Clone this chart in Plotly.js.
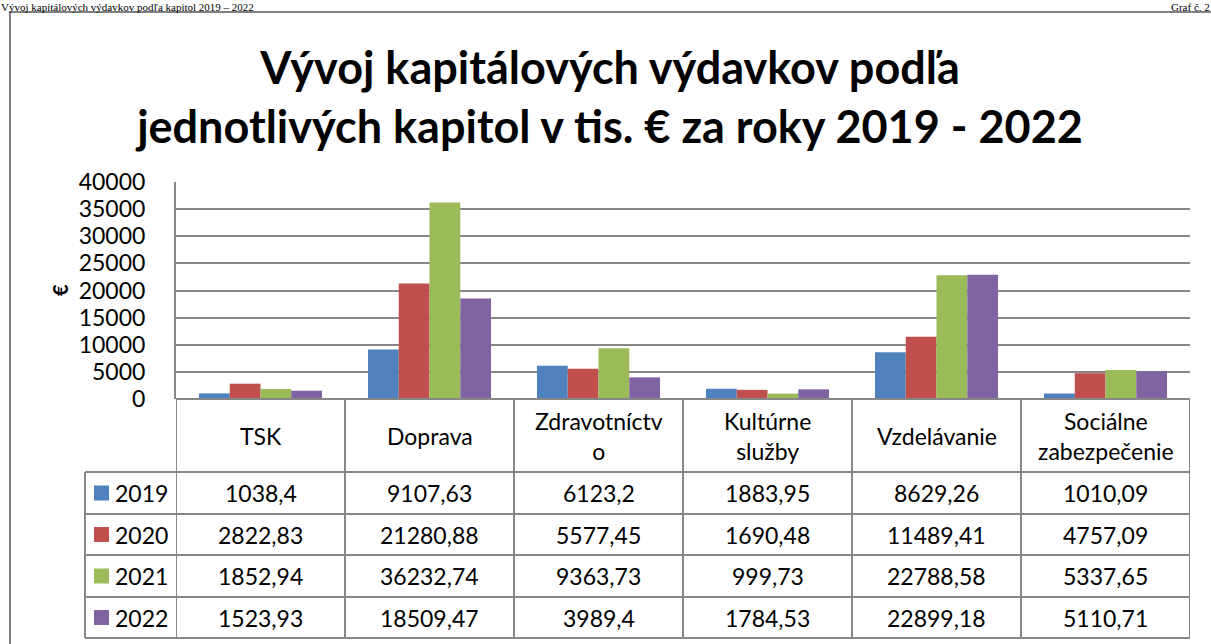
<!DOCTYPE html>
<html>
<head>
<meta charset="utf-8">
<script src="https://cdn.plot.ly/plotly-3.0.1.min.js"></script>
<style>html,body{margin:0;padding:0;background:#fff;}#chart{width:1211px;height:644px;}</style>
</head>
<body>
<div id="chart"></div>
<script>
// ---- data ----
var categories = ['TSK', 'Doprava', 'Zdravotníctvo', 'Kultúrne služby', 'Vzdelávanie', 'Sociálne zabezpečenie'];
var headerLabels = ['TSK', 'Doprava', 'Zdravotníctv<br>o', 'Kultúrne<br>služby', 'Vzdelávanie', 'Sociálne<br>zabezpečenie'];
var years = ['2019', '2020', '2021', '2022'];
var v2019 = [1038.4, 9107.63, 6123.2, 1883.95, 8629.26, 1010.09];
var v2020 = [2822.83, 21280.88, 5577.45, 1690.48, 11489.41, 4757.09];
var v2021 = [1852.94, 36232.74, 9363.73, 999.73, 22788.58, 5337.65];
var v2022 = [1523.93, 18509.47, 3989.4, 1784.53, 22899.18, 5110.71];
var yTickVals = [0, 5000, 10000, 15000, 20000, 25000, 30000, 35000, 40000];
var titleText = 'Vývoj kapitálových výdavkov podľa<br>jednotlivých kapitol v tis. € za roky 2019 - 2022';
var yTitle = '€';
var pageHeaderLeft = 'Vývoj kapitálových výdavkov podľa kapitol 2019 – 2022';
var pageHeaderRight = 'Graf č. 2';

var series = [v2019, v2020, v2021, v2022];
var colors = ['#4F81BD', '#C0504D', '#9BBB59', '#8064A2'];

// ---- geometry helpers (pixel -> paper) ----
var W = 1211, H = 644;
function px(p) { return p / W; }
function py(p) { return 1 - p / H; }
var plotL = 176, plotR = 1190, plotT = 182, plotB = 399;
var legL = 85;
var rowLines = [472, 514, 555, 597, 638];
var headerMid = 436;
var gridCol = '#878787';
var fontFam = 'Lato, "Open Sans", sans-serif';

function fmt(v) { return String(v).replace('.', ','); }

var traces = series.map(function (vals, i) {
  return {
    type: 'bar',
    name: years[i],
    x: categories,
    y: vals,
    marker: { color: colors[i], line: { width: 0 } },
    showlegend: false,
    hovertemplate: '%{x}<br>' + years[i] + ': %{y}<extra></extra>'
  };
});

var shapes = [];
var annotations = [];

// outer chart frame
shapes.push({ type: 'rect', xref: 'paper', yref: 'paper', x0: px(10), x1: 1.02, y0: -0.02, y1: py(12),
  line: { color: '#808080', width: 2 }, fillcolor: 'rgba(0,0,0,0)' });

// zero line / header top
shapes.push({ type: 'line', xref: 'paper', yref: 'paper', x0: px(plotL), x1: px(plotR), y0: py(plotB), y1: py(plotB),
  line: { color: gridCol, width: 2 } });

// vertical column lines (category boundaries)
for (var c = 0; c <= categories.length; c++) {
  shapes.push({ type: 'line', xref: 'x', yref: 'paper', x0: c - 0.5, x1: c - 0.5, y0: py(rowLines[rowLines.length - 1]), y1: py(plotB),
    line: { color: gridCol, width: 2 } });
}
// legend column left line
shapes.push({ type: 'line', xref: 'paper', yref: 'paper', x0: px(legL), x1: px(legL), y0: py(rowLines[rowLines.length - 1]), y1: py(rowLines[0]),
  line: { color: gridCol, width: 2 } });
// horizontal row lines
rowLines.forEach(function (r) {
  shapes.push({ type: 'line', xref: 'paper', yref: 'paper', x0: px(legL), x1: px(plotR), y0: py(r), y1: py(r),
    line: { color: gridCol, width: 2 } });
});

// header labels
headerLabels.forEach(function (lab, i) {
  annotations.push({ xref: 'x', yref: 'paper', x: i, y: py(headerMid), text: lab, showarrow: false,
    xanchor: 'center', yanchor: 'middle', align: 'center', font: { family: fontFam, size: 23, color: '#000' } });
});

// data rows
series.forEach(function (vals, r) {
  var mid = (rowLines[r] + rowLines[r + 1]) / 2;
  // legend key
  shapes.push({ type: 'rect', xref: 'paper', yref: 'paper', x0: px(94), x1: px(109), y0: py(mid + 7.5), y1: py(mid - 7.5),
    fillcolor: colors[r], line: { width: 0 } });
  annotations.push({ xref: 'paper', yref: 'paper', x: px(113), y: py(mid), text: years[r], showarrow: false,
    xanchor: 'left', yanchor: 'middle', font: { family: fontFam, size: 23, color: '#000' } });
  vals.forEach(function (v, i) {
    annotations.push({ xref: 'x', yref: 'paper', x: i, y: py(mid), text: fmt(v), showarrow: false,
      xanchor: 'center', yanchor: 'middle', font: { family: fontFam, size: 23, color: '#000' } });
  });
});

// y axis title
annotations.push({ xref: 'paper', yref: 'paper', x: px(60), y: py(290), text: '<b>' + yTitle + '</b>', showarrow: false,
  textangle: -90, xanchor: 'center', yanchor: 'middle', font: { family: fontFam, size: 20, color: '#000' } });

// page header (above the chart frame)
annotations.push({ xref: 'paper', yref: 'paper', x: 0, y: 1, text: pageHeaderLeft, showarrow: false,
  xanchor: 'left', yanchor: 'top', borderpad: 0, font: { family: '"Liberation Serif", serif', size: 11, color: '#000' } });
annotations.push({ xref: 'paper', yref: 'paper', x: 1, y: 1, text: pageHeaderRight, showarrow: false,
  xanchor: 'right', yanchor: 'top', borderpad: 0, font: { family: '"Liberation Serif", serif', size: 11, color: '#000' } });

var layout = {
  width: W, height: H, autosize: false,
  margin: { l: 0, r: 0, t: 0, b: 0, pad: 0 },
  paper_bgcolor: '#fff', plot_bgcolor: '#fff',
  font: { family: fontFam, size: 23, color: '#000' },
  title: { text: titleText, x: px(610), xanchor: 'center', y: py(84), yanchor: 'top', yref: 'paper',
    font: { family: fontFam, size: 45, weight: 700, color: '#000' } },
  barmode: 'group', bargap: 0.272, bargroupgap: 0,
  xaxis: { domain: [px(plotL), px(plotR)], range: [-0.5, categories.length - 0.5], type: 'category',
    showticklabels: false, showgrid: false, zeroline: false, showline: false, ticks: '', fixedrange: true },
  yaxis: { domain: [py(plotB), py(plotT)], range: [0, 40000], tickvals: yTickVals, ticktext: yTickVals.map(String),
    showgrid: true, gridcolor: gridCol, gridwidth: 2, zeroline: false, showline: true, linecolor: gridCol, linewidth: 2,
    ticks: '', ticklabelstandoff: 24, tickfont: { family: fontFam, size: 23, color: '#000' }, fixedrange: true },
  shapes: shapes,
  annotations: annotations
};

Plotly.newPlot('chart', traces, layout, { displayModeBar: false, staticPlot: true });
</script>
</body>
</html>
